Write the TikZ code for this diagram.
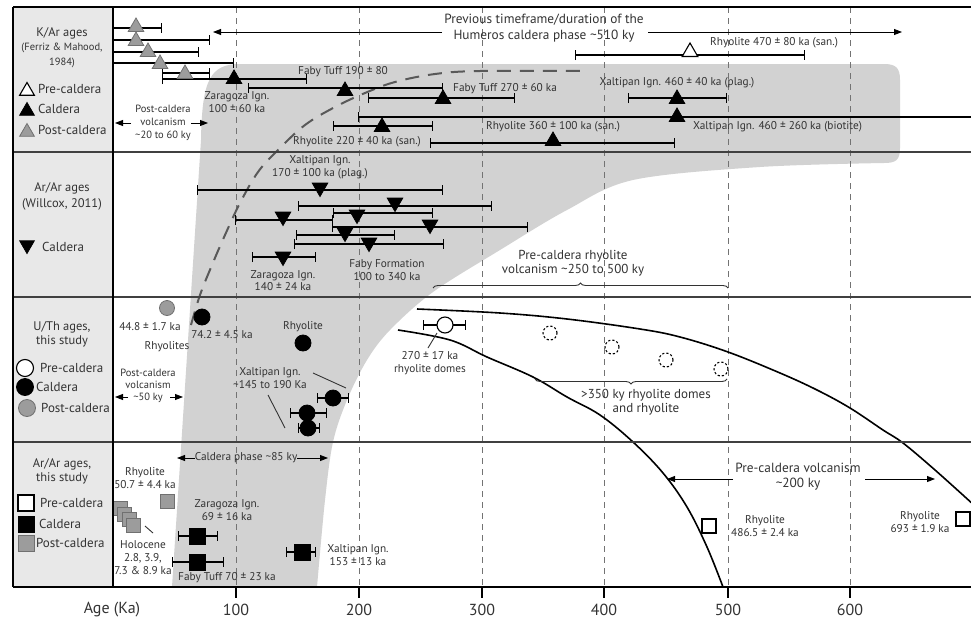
\documentclass[tikz,border=0pt]{standalone}
\usepackage{fontspec}
\setmainfont{PT Sans}
\usetikzlibrary{arrows.meta,shapes.geometric,decorations.pathreplacing}
\definecolor{regiongray}{HTML}{D2D2D2}
\definecolor{panelgray}{HTML}{E8E8E8}
\definecolor{markgray}{HTML}{9C9C9C}
\definecolor{markedge}{HTML}{707070}
\definecolor{txt}{HTML}{333333}
\begin{document}
\begin{tikzpicture}[x=1pt,y=-1pt,
  lab/.style={font=\fontsize{11.3}{12}\selectfont, inner sep=0pt, align=center, text=txt},
  biglab/.style={font=\fontsize{13}{14}\selectfont, inner sep=0pt, align=center, text=txt},
  head/.style={font=\fontsize{12.5}{13}\selectfont, inner sep=0pt, align=center, text=txt},
  subhead/.style={font=\fontsize{10.5}{12}\selectfont, inner sep=0pt, align=center, text=txt},
  legtxt/.style={font=\fontsize{13}{14}\selectfont, inner sep=0pt, anchor=west, text=txt},
  axlab/.style={font=\fontsize{16}{17}\selectfont, inner sep=0pt, text=txt},
  ebar/.style={line width=1.4pt, {Bar[width=10pt]}-{Bar[width=10pt]}},
  lbar/.style={line width=1.4pt, {Bar[width=10pt]}-},
  utri/.style={regular polygon, regular polygon sides=3, minimum size=18pt, inner sep=0pt, draw, line width=0.8pt},
  dtri/.style={utri, shape border rotate=180},
  circmark/.style={circle, minimum size=16pt, inner sep=0pt, draw, line width=0.8pt},
  sqmark/.style={rectangle, minimum size=15pt, inner sep=0pt, draw, line width=0.9pt},
  blk/.style={fill=black, draw=black},
  wht/.style={fill=white, draw=black, line width=1.1pt},
  gry/.style={fill=markgray, draw=markedge},
  grid/.style={draw=black!55, line width=0.7pt, dash pattern=on 6pt off 5pt},
  sep/.style={draw=black!75, line width=1.5pt},
  pointer/.style={draw=txt, line width=0.9pt},
  darr/.style={line width=0.9pt, -{Triangle[length=8pt,width=6pt]}},
]
\useasboundingbox (0,0) rectangle (971,621);
\fill[white] (0,0) rectangle (971,621);
% left panel
\fill[panelgray] (13,7) rectangle (113,587);
% grey region
\fill[regiongray] (172,587) -- (201,140) .. controls (202,80) and (210,64) .. (240,64)
  -- (884,64) .. controls (896,64) and (900,68) .. (900,80) -- (900,148)
  .. controls (900,160) and (896,163) .. (884,163)
  -- plot[smooth, tension=0.55] coordinates {(884,163) (760,167) (633,180) (567,210) (500,250) (433,292) (390,330) (367,360) (347,400) (333,442) (325,500) (317,587)}
  -- cycle;
% grid lines
\foreach \gx in {236,359,482,604,728,850} {
  \draw[grid] (\gx,7) -- (\gx,587);
  \draw[line width=1.4pt] (\gx,587) -- (\gx,598);
}
% dashed curve
\draw[draw=black!65, line width=2pt, dash pattern=on 14pt off 9pt]
  plot[smooth, tension=0.6] coordinates {(191,325) (200,295) (212,265) (225,235) (240,203) (258,172) (278,150) (305,125) (335,107) (365,93) (395,82) (435,74) (480,71) (580,71)};
% black curves
\draw[line width=1.6pt] plot[smooth, tension=0.6] coordinates {(417,309) (500,313) (567,319) (640,329) (680,337) (728,352) (780,373) (817,390) (850,408) (883,430) (903,443) (935,470) (975,506)};
\draw[line width=1.6pt] plot[smooth, tension=0.6] coordinates {(398,330) (450,340) (487,357) (533,377) (567,397) (600,415) (633,442) (663,473) (687,507) (707,547) (723,587)};

% ---------------- Row 1 K/Ar
\draw[ebar] (113,28) -- (162,28);
\draw[ebar] (113,40) -- (210,40);
\draw[ebar] (113,52) -- (199,52);
\draw[ebar] (113,63) -- (234,63);
\draw[ebar] (162,73) -- (210,73);
\draw[ebar] (162,79) -- (307,79);
\draw[ebar] (248,88) -- (443,88);
\draw[ebar] (368,98) -- (515,98);
\draw[ebar] (628,98) -- (727,98);
\draw[lbar] (358,117) -- (990,117);
\draw[ebar] (333,126) -- (433,126);
\draw[ebar] (430,143) -- (675,143);
\draw[ebar] (575,55) -- (805,55);
\node[utri,gry] (g1) at (136,27) {};
\node[utri,gry] (g2) at (136,41) {};
\node[utri,gry] (g3) at (148,52) {};
\node[utri,gry] (g4) at (160,64) {};
\node[utri,gry] (g5) at (185,74) {};
\node[utri,blk] (k1) at (234,79) {};
\node[utri,blk] (k2) at (345,91) {};
\node[utri,blk] (k3) at (443,99) {};
\node[utri,blk] (k4) at (677,99) {};
\node[utri,blk] (k5) at (677,117) {};
\node[utri,blk] (k6) at (382,127) {};
\node[utri,blk] (k7) at (553,141) {};
\node[utri,wht] (w1) at (690,52) {};

\node[head] (h1) at (62,33) {K/Ar ages};
\node[subhead] (h1b) at (62,48) {(Ferriz \& Mahood,};
\node[subhead] (h1c) at (62,63) {1984)};
\node[utri,wht,minimum size=17pt] (l1a) at (27,91) {};
\node[legtxt] (l1at) at (38,89) {Pre-caldera};
\node[utri,blk,minimum size=17pt] (l1b) at (27,111) {};
\node[legtxt] (l1bt) at (38,109) {Caldera};
\node[utri,gry,minimum size=17pt] (l1c) at (27,132) {};
\node[legtxt] (l1ct) at (38,130) {Post-caldera};

\node[font=\fontsize{13.3}{15}\selectfont, inner sep=0pt, align=center, text=txt] (prev) at (544,28) {Previous timeframe/duration of the\\[1pt]Humeros caldera phase \textasciitilde510 ky};
\coordinate (pa1) at (442,32); \coordinate (pa2) at (213,32);
\coordinate (pb1) at (648,32); \coordinate (pb2) at (902,32);
\draw[darr] (pa1) -- (pa2);
\draw[darr] (pb1) -- (pb2);
\node[subhead] (pcv) at (163,123) {Post-caldera\\[1pt]volcanism\\[1pt]\textasciitilde20 to 60 ky};
\coordinate (pc1) at (131,123); \coordinate (pc2) at (115,123);
\coordinate (pc3) at (191,123); \coordinate (pc4) at (208,123);
\draw[darr] (pc1) -- (pc2);
\draw[darr] (pc3) -- (pc4);

\node[lab] (t1) at (237,102) {Zaragoza Ign.\\[1pt]100 ± 60 ka};
\node[lab] (t2) at (343,72) {Faby Tuff 190 ± 80};
\node[lab, anchor=west] (t3) at (453,89) {Faby Tuff 270 ± 60 ka};
\node[lab] (t4) at (677,83) {Xaltipan Ign. 460 ± 40 ka (plag.)};
\node[lab, anchor=west] (t5) at (693,127) {Xaltipan Ign. 460 ± 260 ka (biotite)};
\node[lab] (t6) at (357,142) {Rhyolite 220 ± 40 ka (san.)};
\node[lab] (t7) at (553,127) {Rhyolite 360 ± 100 ka (san.)};
\node[lab, anchor=west] (t8) at (710,43) {Rhyolite 470 ± 80 ka (san.)};

% ---------------- Row 2 Ar/Ar Willcox
\draw[ebar] (197,190) -- (443,190);
\draw[ebar] (298,206) -- (492,206);
\draw[ebar] (333,213) -- (433,213);
\draw[ebar] (235,220) -- (333,220);
\draw[ebar] (332,227) -- (528,227);
\draw[ebar] (296,235) -- (395,235);
\draw[ebar] (294,244) -- (444,244);
\draw[ebar] (252,257) -- (316,257);
\node[dtri,blk] (d1) at (320,187.5) {};
\node[dtri,blk] (d2) at (395,202.5) {};
\node[dtri,blk] (d3) at (357,214.5) {};
\node[dtri,blk] (d4) at (283,216.5) {};
\node[dtri,blk] (d5) at (430,224.5) {};
\node[dtri,blk] (d6) at (345,232.5) {};
\node[dtri,blk] (d7) at (369,242.5) {};
\node[dtri,blk] (d8) at (283,256.5) {};

\node[head] (h2) at (62,188) {Ar/Ar ages};
\node[head] (h2b) at (62,204) {(Willcox, 2011)};
\node[dtri,blk,minimum size=17pt] (l2a) at (27,245) {};
\node[legtxt] (l2at) at (42,247) {Caldera};

\node[lab] (u1) at (320,167.5) {Xaltipan Ign.\\[1pt]170 ± 100 ka (plag.)};
\node[lab] (u2) at (283,281) {Zaragoza Ign.\\[0pt]140 ± 24 ka};
\node[lab] (u3) at (387,270.5) {Faby Formation\\[1pt]100 to 340 ka};
\node[biglab] (u4) at (573,263.5) {Pre-caldera rhyolite\\[0pt]volcanism \textasciitilde250 to 500 ky};
\coordinate (br1a) at (433,288); \coordinate (br1b) at (728,288);
\draw[line width=0.9pt, draw=txt, decorate, decoration={brace, amplitude=5pt}] (br1a) -- (br1b);

% ---------------- Row 3 U/Th
\draw[ebar] (317,398) -- (349,398);
\draw[ebar] (290,413) -- (327,413);
\draw[ebar] (298,428) -- (320,428);
\draw[ebar] (423,325) -- (466,325);
\node[circmark,gry,minimum size=15pt] (c1) at (167,308) {};
\node[circmark,blk] (c2) at (202,317) {};
\node[circmark,blk] (c3) at (303,343) {};
\node[circmark,blk] (c4) at (333,398) {};
\node[circmark,blk] (c5) at (307,413) {};
\node[circmark,blk] (c6) at (308,428) {};
\node[circmark,wht] (c7) at (445,325) {};
\foreach \cx/\cy/\cn in {550/333/e1, 612/347/e2, 666/360/e3, 721/369/e4}
  \node[circle, minimum size=14pt, inner sep=0pt, draw, line width=1.1pt, dash pattern=on 2.2pt off 2pt] (\cn) at (\cx,\cy) {};

\node[head] (h3) at (62,334.5) {U/Th ages,\\[1pt]this study};
\node[circmark,wht,minimum size=17pt] (l3a) at (25,368) {};
\node[legtxt] (l3at) at (40,368) {Pre-caldera};
\node[circmark,blk,minimum size=17pt] (l3b) at (25,387) {};
\node[legtxt] (l3bt) at (36,387) {Caldera};
\node[circmark,gry,minimum size=17pt] (l3c) at (27,408) {};
\node[legtxt] (l3ct) at (41,408) {Post-caldera};

\node[lab] (v1) at (150,327) {44.8 ± 1.7 ka};
\node[lab] (v2) at (167,347) {Rhyolites};
\node[lab] (v3) at (222,335) {74.2 ± 4.5 ka};
\node[lab] (v4) at (303,327) {Rhyolite};
\node[lab] (v5) at (270,378.5) {Xaltipan Ign.\\[1pt]\textasciitilde145 to 190 Ka};
\coordinate (xp1) at (313,373); \coordinate (xp2) at (346,388);
\coordinate (xp3) at (268,395); \coordinate (xp4) at (285,428);
\draw[pointer] (xp1) -- (xp2);
\draw[pointer] (xp3) -- (xp4);
\node[subhead] (v6) at (148,386) {Post-caldera\\[0pt]volcanism\\[0pt]\textasciitilde50 ky};
\coordinate (pd1) at (128,397); \coordinate (pd2) at (115,397);
\coordinate (pd3) at (170,397); \coordinate (pd4) at (183,397);
\draw[darr] (pd1) -- (pd2);
\draw[darr] (pd3) -- (pd4);
\node[lab] (v7) at (430,363) {270 ± 17 ka\\[1pt]rhyolite domes};
\coordinate (rp1) at (437,333); \coordinate (rp2) at (428,348);
\draw[pointer] (rp1) -- (rp2);
\coordinate (br2a) at (727,379); \coordinate (br2b) at (535,379);
\draw[line width=0.9pt, draw=txt, decorate, decoration={brace, amplitude=5pt}] (br2a) -- (br2b);
\node[biglab] (v8) at (646,402) {>350 ky rhyolite domes\\[0pt]and rhyolite};

% ---------------- Row 4 Ar/Ar this study
\draw[ebar] (178,536) -- (218,536);
\draw[ebar] (172,562) -- (224,562);
\draw[ebar] (286,552) -- (316,552);
\begin{scope}
\clip (113,7) rectangle (971,587);
\node[sqmark,gry,minimum size=14pt] (s1) at (120,508) {};
\node[sqmark,gry,minimum size=14pt] (s2) at (124.5,514) {};
\node[sqmark,gry,minimum size=14pt] (s3) at (129,519.5) {};
\node[sqmark,gry,minimum size=14pt] (s4) at (133.5,525) {};
\end{scope}
\node[sqmark,gry,minimum size=14pt] (s5) at (167,501) {};
\node[sqmark,blk,minimum size=16pt] (s6) at (197,536) {};
\node[sqmark,blk,minimum size=16pt] (s7) at (197,562) {};
\node[sqmark,blk,minimum size=16pt] (s8) at (302,552) {};
\node[sqmark,wht,minimum size=14pt] (s9) at (709,526) {};
\node[sqmark,wht,minimum size=14pt] (s10) at (963,519) {};

\node[head] (h4) at (62,471.5) {Ar/Ar ages,\\[1pt]this study};
\node[sqmark,wht,minimum size=16pt] (l4a) at (26,503) {};
\node[legtxt] (l4at) at (40,503) {Pre-caldera};
\node[sqmark,blk,minimum size=16pt] (l4b) at (26,524) {};
\node[legtxt] (l4bt) at (39,524) {Caldera};
\node[sqmark,gry,minimum size=16pt] (l4c) at (26,543) {};
\node[legtxt] (l4ct) at (36,543) {Post-caldera};

\node[lab] (q1) at (246,458) {Caldera phase \textasciitilde85 ky};
\coordinate (pe1) at (195,458); \coordinate (pe2) at (177,458);
\coordinate (pe3) at (297,458); \coordinate (pe4) at (328,458);
\draw[darr] (pe1) -- (pe2);
\draw[darr] (pe3) -- (pe4);
\node[lab] (q2) at (145,478) {Rhyolite\\[1pt]50.7 ± 4.4 ka};
\coordinate (hp1) at (145,526); \coordinate (hp2) at (153,533);
\draw[pointer] (hp1) -- (hp2);
\node[lab] (q3) at (143,557.5) {Holocene\\[1pt]2.8, 3.9,\\[1pt]7.3 \& 8.9 ka};
\node[lab] (q4) at (227,510) {Zaragoza Ign.\\[1pt]69 ± 16 ka};
\node[lab] (q5) at (227,578) {Faby Tuff 70 ± 23 ka};
\node[lab] (q6) at (358,555.5) {Xaltipan Ign.\\[1pt]153 ± 13 ka};
\node[font=\fontsize{13.3}{15}\selectfont, inner sep=0pt, align=center, text=txt] (q7) at (798,477) {Pre-caldera volcanism\\[0pt]\textasciitilde200 ky};
\coordinate (pf1) at (733,479); \coordinate (pf2) at (667,479);
\coordinate (pf3) at (865,479); \coordinate (pf4) at (935,479);
\draw[darr] (pf1) -- (pf2);
\draw[darr] (pf3) -- (pf4);
\node[lab] (q8) at (765,526) {Rhyolite\\[1pt]486.5 ± 2.4 ka};
\node[lab] (q9) at (920,522.5) {Rhyolite\\[1pt]693 ± 1.9 ka};

% ---------------- frame lines
\draw[sep] (13,152) -- (971,152);
\draw[sep] (13,297) -- (971,297);
\draw[sep] (13,442) -- (971,442);
\draw[line width=1.6pt] (13,7) -- (971,7);
\draw[line width=1.6pt] (13,587) -- (971,587);
\draw[line width=1.6pt] (13,7) -- (13,587);
\draw[line width=1.6pt] (113,7) -- (113,587);

% axis labels
\node[axlab] (ax0) at (112,610) {Age (Ka)};
\foreach \gx/\gl in {236/100,359/200,482/300,604/400,728/500,850/600}
  \node[axlab] (ax\gl) at (\gx,610) {\gl};
\end{tikzpicture}
\end{document}
